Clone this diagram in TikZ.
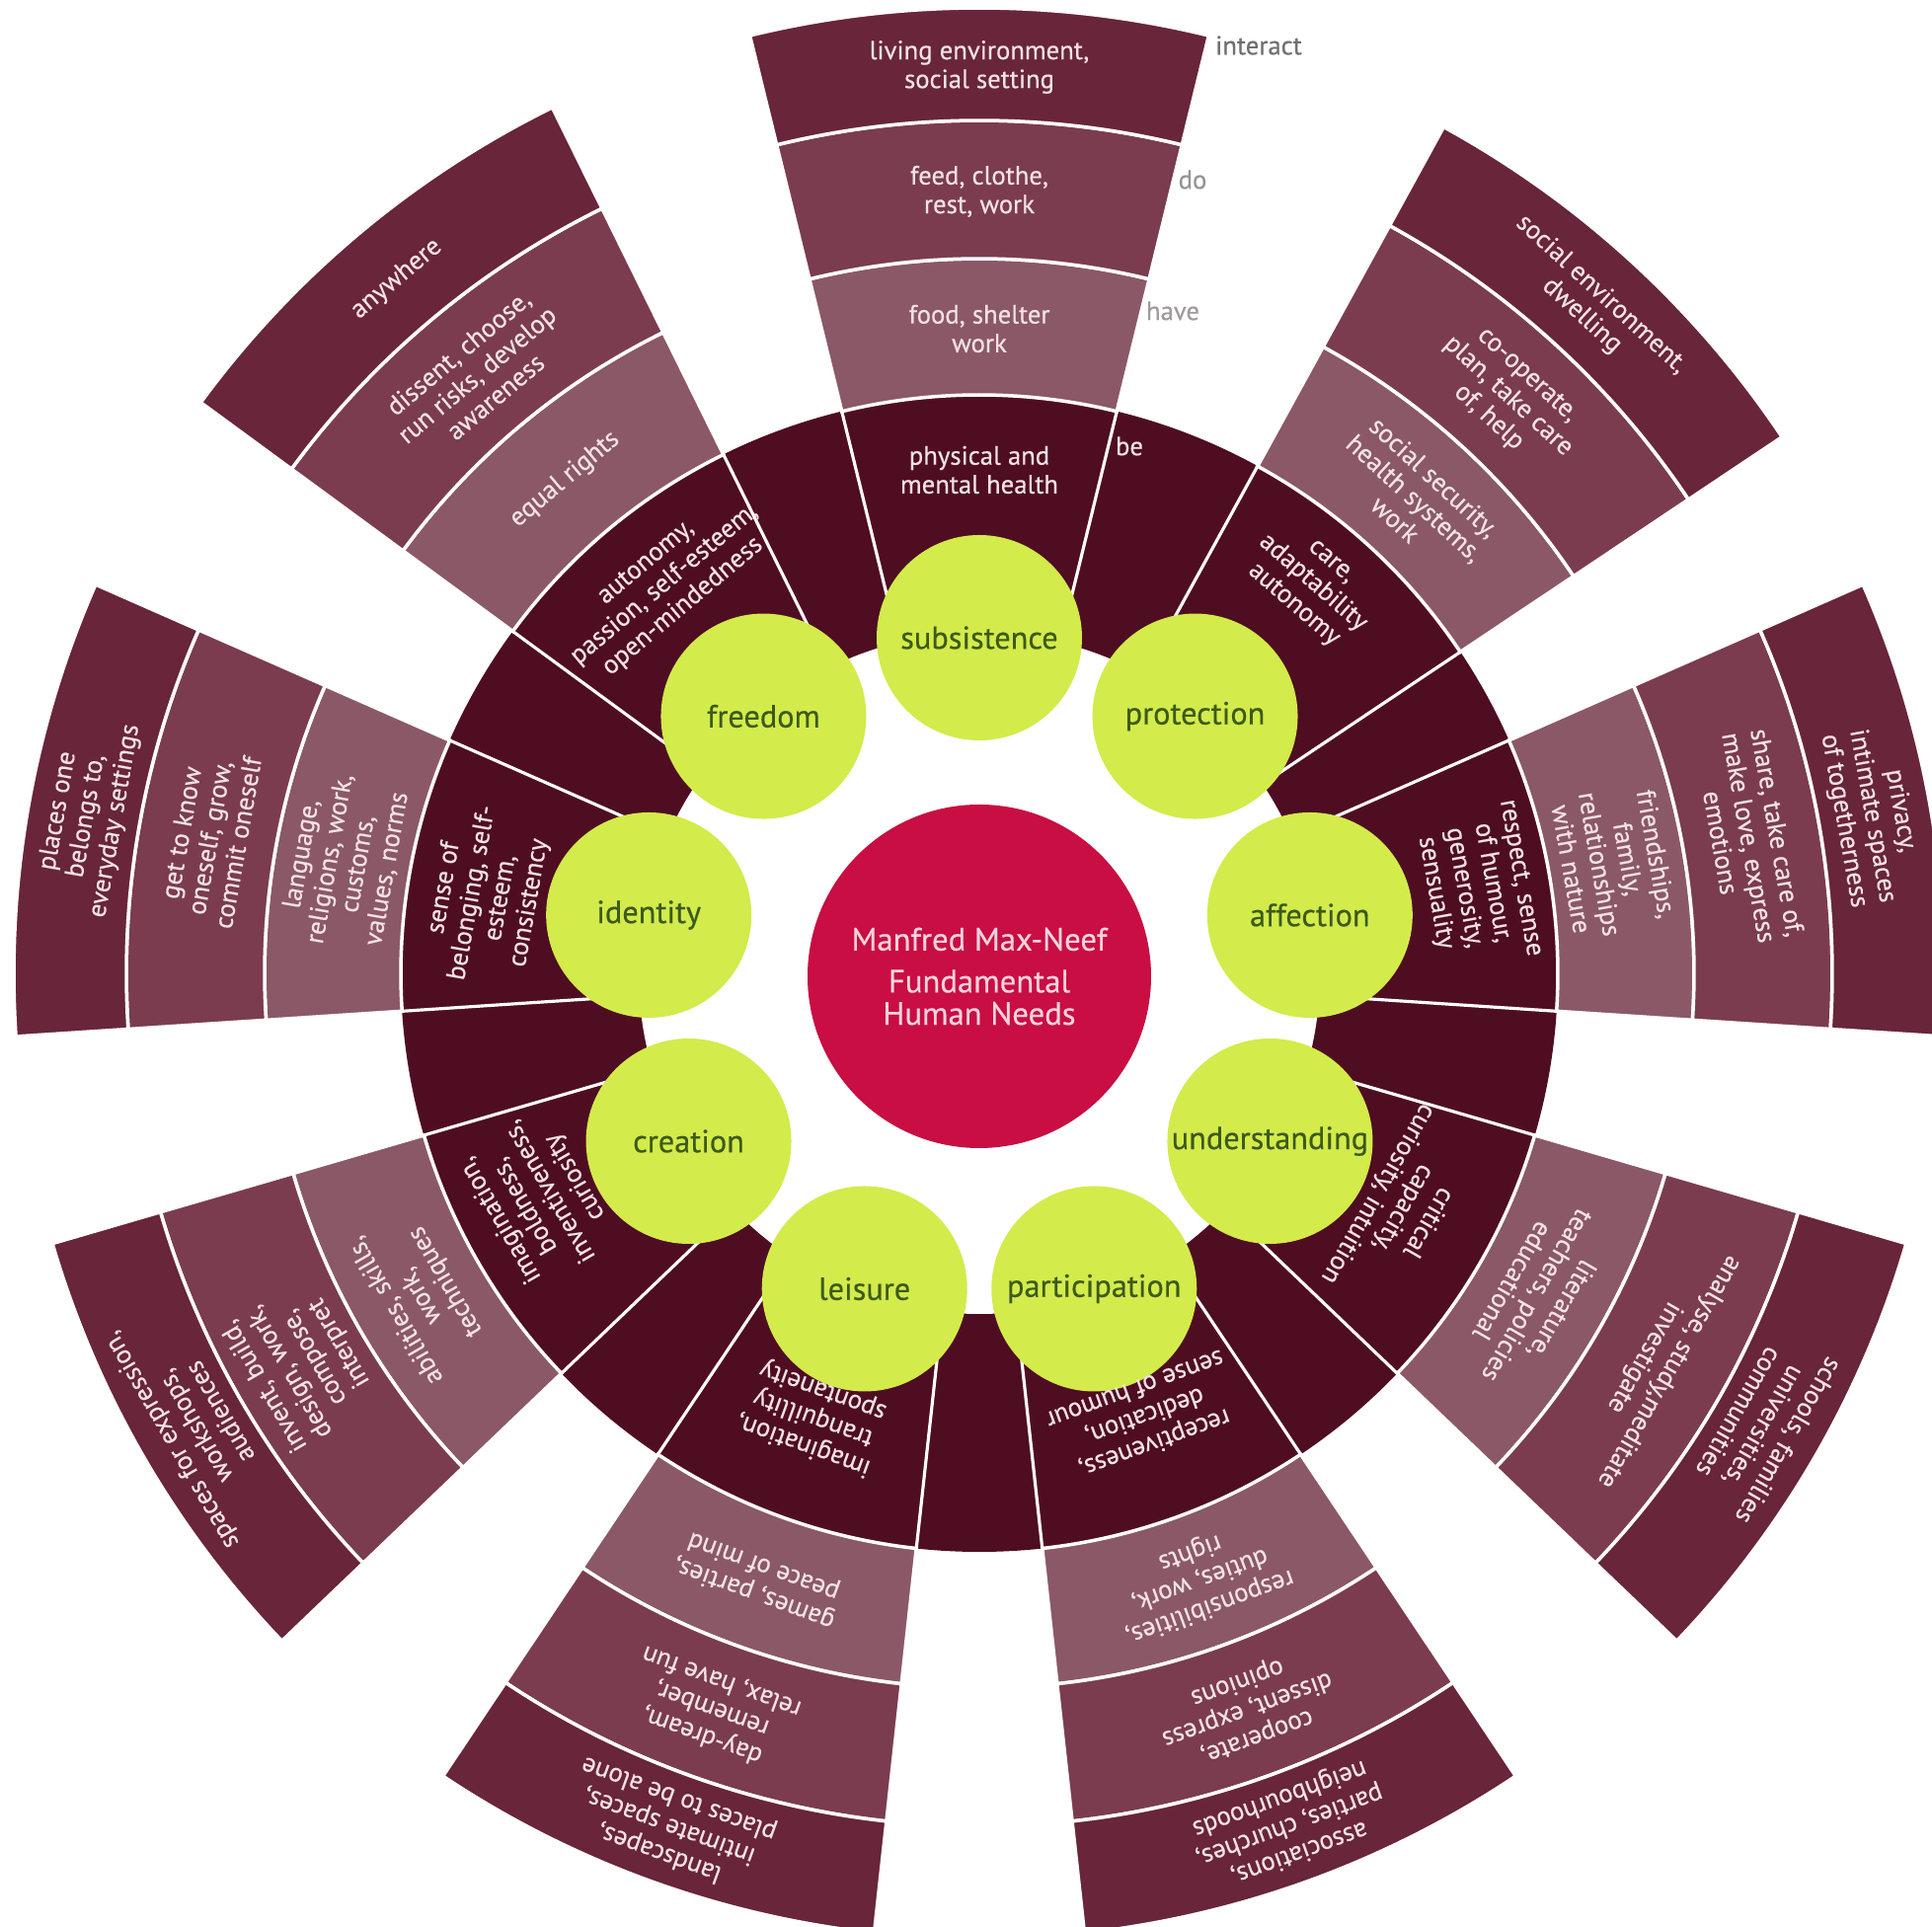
\documentclass[tikz,border=0pt]{standalone}
\usepackage{fontspec}
\setmainfont{PT Sans}
\newfontfamily\bandfont{PT Sans}[FakeBold=0.4]
\definecolor{ringdark}{HTML}{4F0D22}
\definecolor{bandhave}{HTML}{8B5868}
\definecolor{banddo}{HTML}{7B3C50}
\definecolor{bandint}{HTML}{69253A}
\definecolor{needgreen}{HTML}{D3EB4B}
\definecolor{needtext}{HTML}{3D5A18}
\definecolor{centerred}{HTML}{C80E42}
\definecolor{paletext}{HTML}{F3E2E7}
\definecolor{centertext}{HTML}{F7D3DD}
\definecolor{lblint}{HTML}{707070}
\definecolor{lbldo}{HTML}{949494}
\definecolor{lblhave}{HTML}{A09A9C}
\tikzset{
  bandtxt/.style={font=\bandfont\fontsize{7.6}{8.3}\selectfont, text=paletext, align=center, inner sep=0pt},
  needcircle/.style={circle, fill=needgreen, minimum size=2.08cm, inner sep=0pt, font=\bandfont\fontsize{9.2}{11}\selectfont, text=needtext},
  gaplines/.style={white, line width=0.9pt},
  bandfill/.style={draw=white, line width=1pt},
  leveltxt/.style={font=\bandfont\fontsize{7.6}{8.3}\selectfont, inner sep=0pt},
}
\newcommand\annsec[4]{%
  \pgfmathsetmacro\angA{#1-13.75}\pgfmathsetmacro\angB{#1+13.75}%
  \filldraw[fill=#4, bandfill] (\angA:#2) arc[start angle=\angA, end angle=\angB, radius=#2] -- (\angB:#3) arc[start angle=\angB, end angle=\angA, radius=#3] -- cycle;}
\begin{document}
\begin{tikzpicture}
\useasboundingbox (-9.92,-9.66) rectangle (9.65,9.86);
\clip (-9.92,-9.66) rectangle (9.65,9.86);
\fill[white] (-9.92,-9.66) rectangle (9.65,9.86);
\fill[ringdark] (0,0) circle (5.86);
\fill[white] (0,0) circle (3.45);
\foreach \a in {90,47.5,10,-30,-70,-110,-150,-190,-230} {
  \annsec{\a}{5.86}{7.24}{bandhave}
  \annsec{\a}{7.24}{8.64}{banddo}
  \annsec{\a}{8.64}{9.78}{bandint}
  \draw[gaplines] ({\a-13.75}:3.3) -- ({\a-13.75}:5.86);
  \draw[gaplines] ({\a+13.75}:3.3) -- ({\a+13.75}:5.86);
}
% need circles
\node[needcircle] (subsistence) at (90:3.40) {subsistence};
\node[needcircle] (protection) at (50:3.40) {protection};
\node[needcircle] (affection) at (10:3.40) {affection};
\node[needcircle] (understanding) at (-30:3.40) {understanding};
\node[needcircle] (participation) at (-70:3.40) {participation};
\node[needcircle] (leisure) at (-110:3.40) {leisure};
\node[needcircle] (creation) at (-150:3.40) {creation};
\node[needcircle] (identity) at (170:3.40) {identity};
\node[needcircle] (freedom) at (130:3.40) {freedom};
\node[circle, fill=centerred, minimum size=3.48cm, inner sep=0pt, text=centertext, align=center, font=\bandfont\fontsize{9.3}{9.3}\selectfont] (centre) at (0,-0.03) {Manfred Max-Neef\\[2.8pt]Fundamental\\Human Needs};
% level labels
\node[leveltxt, text=lblint] (lvl-int) at (2.83,9.40) {interact};
\node[leveltxt, text=lbldo] (lvl-do) at (2.16,8.04) {do};
\node[leveltxt, text=lblhave] (lvl-have) at (1.96,6.71) {have};
\node[leveltxt, text=paletext] (lvl-be) at (1.52,5.34) {be};
% subsistence
\node[bandtxt] (sub-be) at (90:5.10) {physical and\\mental health};
\node[bandtxt] (sub-have) at (90:6.53) {food, shelter\\work};
\node[bandtxt] (sub-do) at (90:7.92) {feed, clothe,\\rest, work};
\node[bandtxt] (sub-int) at (90:9.18) {living environment,\\social setting};
% protection
\node[bandtxt, rotate=-41] (pro-be) at (49.5:5.18) {care,\\adaptability\\autonomy};
\node[bandtxt, rotate=-42.5] (pro-have) at (47.5:6.53) {social security,\\health systems,\\work};
\node[bandtxt, rotate=-42.5] (pro-do) at (47.5:7.92) {co-operate,\\plan, take care\\of, help};
\node[bandtxt, rotate=-42.5] (pro-int) at (47.5:9.18) {social environment,\\dwelling};
% affection
\node[bandtxt, rotate=-80] (aff-be) at (10:5.12) {respect, sense\\of humour,\\generosity,\\sensuality};
\node[bandtxt, rotate=-80] (aff-have) at (10:6.53) {friendships,\\family,\\relationships\\with nature};
\node[bandtxt, rotate=-80] (aff-do) at (10:7.92) {share, take care of,\\make love, express\\emotions};
\node[bandtxt, rotate=-80] (aff-int) at (10:9.18) {privacy,\\intimate spaces\\of togetherness};
% understanding
\node[bandtxt, rotate=-120] (und-be) at (-29:4.90) {critical\\capacity,\\curiosity, intuition};
\node[bandtxt, rotate=-120] (und-have) at (-30:6.53) {literature,\\teachers, policies\\educational};
\node[bandtxt, rotate=-120] (und-do) at (-30:7.92) {analyse, study,meditate\\investigate};
\node[bandtxt, rotate=-120] (und-int) at (-30:9.18) {schools, families\\universities,\\communities};
% participation
\node[bandtxt, rotate=-160] (par-be) at (-69.5:4.80) {receptiveness,\\dedication,\\sense of humour};
\node[bandtxt, rotate=-160] (par-have) at (-70:6.53) {responsibilities,\\duties, work,\\rights};
\node[bandtxt, rotate=-160] (par-do) at (-70:7.92) {cooperate,\\dissent, express\\opinions};
\node[bandtxt, rotate=-160] (par-int) at (-70:9.18) {associations,\\parties, churches,\\neighbourhoods};
% leisure
\node[bandtxt, rotate=160] (lei-be) at (-110.5:4.80) {imagination,\\tranquillity\\spontaneity};
\node[bandtxt, rotate=160] (lei-have) at (-110:6.53) {games, parties,\\peace of mind};
\node[bandtxt, rotate=160] (lei-do) at (-110:7.92) {day-dream,\\remember,\\relax, have fun};
\node[bandtxt, rotate=160] (lei-int) at (-110:9.18) {landscapes,\\intimate spaces,\\places to be alone};
% creation
\node[bandtxt, rotate=120] (cre-be) at (-153:5.02) {imagination,\\boldness,\\inventiveness,\\curiosity};
\node[bandtxt, rotate=120] (cre-have) at (-150:6.53) {abilities, skills,\\work,\\techniques};
\node[bandtxt, rotate=120] (cre-do) at (-150:7.92) {invent, build,\\design, work,\\compose,\\interpret};
\node[bandtxt, rotate=120] (cre-int) at (-150:9.18) {spaces for expression,\\workshops,\\audiences};
% identity
\node[bandtxt, rotate=80] (ide-be) at (171:5.05) {sense of\\belonging, self-\\esteem,\\consistency};
\node[bandtxt, rotate=80] (ide-have) at (170:6.53) {language,\\religions, work,\\customs,\\values, norms};
\node[bandtxt, rotate=80] (ide-do) at (170:7.92) {get to know\\oneself, grow,\\commit oneself};
\node[bandtxt, rotate=80] (ide-int) at (170:9.18) {places one\\belongs to,\\everyday settings};
% freedom
\node[bandtxt, rotate=40] (fre-be) at (129:5.06) {autonomy,\\passion, self-esteem,\\open-mindedness};
\node[bandtxt, rotate=40] (fre-have) at (130:6.53) {equal rights};
\node[bandtxt, rotate=40] (fre-do) at (130:7.92) {dissent, choose,\\run risks, develop\\awareness};
\node[bandtxt, rotate=40] (fre-int) at (130:9.18) {anywhere};
\end{tikzpicture}
\end{document}
